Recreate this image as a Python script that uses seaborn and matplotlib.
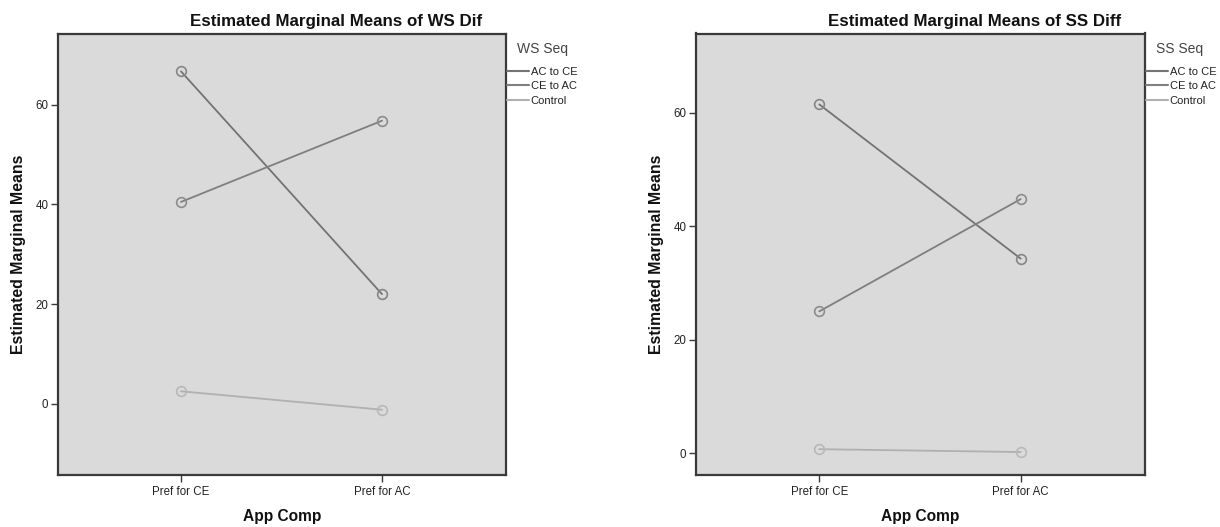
import matplotlib
matplotlib.use("Agg")
import matplotlib.pyplot as plt
import seaborn as sns
import pandas as pd
from matplotlib.lines import Line2D

# ---- data ----
categories = ["Pref for CE", "Pref for AC"]
groups = ["AC to CE", "CE to AC", "Control"]
ws_ac_to_ce = [66.7, 22.0]
ws_ce_to_ac = [40.5, 56.8]
ws_control = [2.5, -1.2]
ss_ac_to_ce = [61.5, 34.3]
ss_ce_to_ac = [25.0, 44.8]
ss_control = [0.7, 0.2]
ws_yticks = [0, 20, 40, 60]
ss_yticks = [0, 20, 40, 60]

palette = {"AC to CE": "#737373", "CE to AC": "#7f7f7f", "Control": "#b0b0b0"}
marker_edge = {"AC to CE": "#858585", "CE to AC": "#8c8c8c", "Control": "#b8b8b8"}

def make_df(a, b, c):
    rows = []
    for g, vals in zip(groups, [a, b, c]):
        for cat, v in zip(categories, vals):
            rows.append({"App Comp": cat, "Seq": g, "Mean": v})
    return pd.DataFrame(rows)

ws_df = make_df(ws_ac_to_ce, ws_ce_to_ac, ws_control)
ss_df = make_df(ss_ac_to_ce, ss_ce_to_ac, ss_control)

sns.set_theme(style="white")
plt.rcParams["font.family"] = ["Liberation Sans", "DejaVu Sans"]

fig = plt.figure(figsize=(12.2, 5.27), dpi=100)
ax1 = fig.add_axes([58/1220, 52/527, 448/1220, 441.5/527])
ax2 = fig.add_axes([696/1220, 52/527, 449/1220, 441.5/527])

def draw(ax, df, title, legtitle, ylim, yticks):
    ax.set_facecolor("#dadada")
    sns.lineplot(data=df, x="App Comp", y="Mean", hue="Seq", hue_order=groups,
                 palette=palette, marker="o", markersize=7, markerfacecolor="none",
                 linewidth=1.3, ax=ax, legend=False, sort=False)
    for ln, g in zip(ax.lines, groups):
        ln.set_markeredgecolor(marker_edge[g])
        ln.set_markeredgewidth(1.2)
    ax.set_xlim(-0.612, 1.617)
    ax.set_ylim(*ylim)
    ax.set_yticks(yticks)
    for s in ax.spines.values():
        s.set_color("#3a3a3a")
        s.set_linewidth(1.6)
    ax.tick_params(axis="both", which="both", direction="out", length=5, width=1,
                   color="#3a3a3a", labelsize=8.3, labelcolor="#222222",
                   left=True, bottom=True)
    ax.tick_params(axis="x", pad=3)
    ax.tick_params(axis="y", pad=2)
    for lab in ax.get_xticklabels() + ax.get_yticklabels():
        lab.set_fontfamily(["Liberation Sans Narrow", "Liberation Sans", "DejaVu Sans"])
    ax.set_xlabel("")
    ax.set_ylabel("")
    ax.text(-0.089, 0.5, "Estimated Marginal Means", transform=ax.transAxes,
            rotation=90, ha="center", va="center", fontsize=11.4, fontweight="bold",
            color="#111111")
    ax.text(0.5, -0.095, "App Comp", transform=ax.transAxes, ha="center",
            va="center", fontsize=11.2, fontweight="bold", color="#111111")
    ax.text(0.62, 1.028, title, transform=ax.transAxes, ha="center", va="center",
            fontsize=12.2, fontweight="bold", color="#111111")
    ax.text(1.0246, 0.965, legtitle, transform=ax.transAxes, ha="left", va="center",
            fontsize=10, color="#444444")
    handles = [Line2D([0], [0], color=palette[g], linewidth=1.5) for g in groups]
    leg = ax.legend(handles, groups, loc="upper left", bbox_to_anchor=(1.002, 0.925),
                    frameon=False, fontsize=8, handlelength=2.0, handletextpad=0.15,
                    labelspacing=0.42, borderpad=0, borderaxespad=0)
    for t in leg.get_texts():
        t.set_color("#222222")

draw(ax1, ws_df, "Estimated Marginal Means of WS Dif", "WS Seq", (-14.3, 74.3), ws_yticks)
draw(ax2, ss_df, "Estimated Marginal Means of SS Diff", "SS Seq", (-3.85, 74.0), ss_yticks)

fig.savefig("out.png", dpi=100, facecolor="white")
